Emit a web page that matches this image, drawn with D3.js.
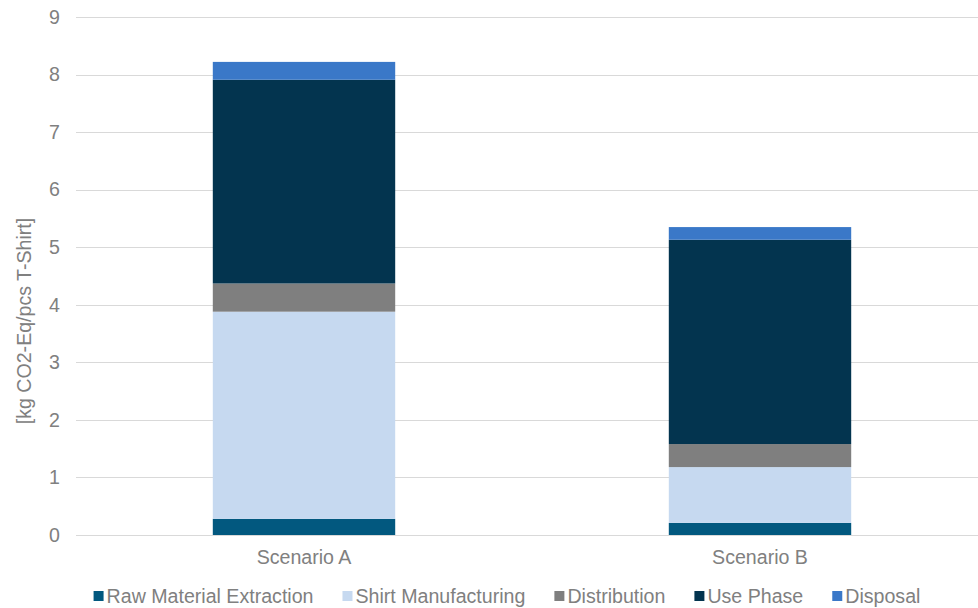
<!DOCTYPE html>
<html>
<head>
<meta charset="utf-8">
<script src="https://cdn.jsdelivr.net/npm/d3@7"></script>
<style>
  body { margin: 0; background: #fff; }
  text { font-family: "Liberation Sans", Arial, sans-serif; fill: #808080; }
</style>
</head>
<body>
<svg id="chart" width="978" height="608"></svg>
<script>
// data
var scenarios = ["Scenario A", "Scenario B"];
var stages = ["Raw Material Extraction", "Shirt Manufacturing", "Distribution", "Use Phase", "Disposal"];
var rawMaterial = [0.28, 0.21];
var shirtManufacturing = [3.60, 0.97];
var distribution = [0.49, 0.40];
var usePhase = [3.54, 3.55];
var disposal = [0.31, 0.22];
var yTicks = [0, 1, 2, 3, 4, 5, 6, 7, 8, 9];
var colors = ["#02587f", "#c6d9f0", "#7f7f7f", "#03344f", "#3a78c8"];

var fontSize = "19.6px";

var svg = d3.select("#chart")
    , margin = {top: 17, right: -10, bottom: 73, left: 76}
    , width = +svg.attr("width") - margin.left - margin.right
    , height = +svg.attr("height") - margin.top - margin.bottom
    , g = svg.append("g").attr("transform", "translate(" + margin.left + "," + margin.top + ")");

var series = [rawMaterial, shirtManufacturing, distribution, usePhase, disposal];
var table = scenarios.map(function(s, i) {
    var row = {scenario: s};
    stages.forEach(function(k, j) { row[k] = series[j][i]; });
    return row;
});
var stack = d3.stack().keys(stages)(table);

var x = d3.scaleBand().domain(scenarios).range([0, width]).paddingInner(0.6).paddingOuter(0.3);
var y = d3.scaleLinear().domain([0, 9]).range([height, 0]);

// gridlines
g.append("g")
    .selectAll("line")
    .data(yTicks)
    .enter().append("line")
    .attr("x1", 0).attr("x2", width)
    .attr("y1", function(d) { return Math.round(y(d)) + 0.5; })
    .attr("y2", function(d) { return Math.round(y(d)) + 0.5; })
    .attr("stroke", "#d9d9d9")
    .attr("stroke-width", 1);

// y axis labels
var yAxis = g.append("g")
    .call(d3.axisLeft(y).tickValues(yTicks).tickSize(0).tickPadding(16));
yAxis.select(".domain").remove();
yAxis.selectAll("text")
    .attr("font-size", fontSize)
    .attr("font-family", "Liberation Sans, Arial, sans-serif")
    .attr("fill", "#808080");

// bars
g.append("g")
    .selectAll("g")
    .data(stack)
    .enter().append("g")
    .attr("fill", function(d, i) { return colors[i]; })
    .selectAll("rect")
    .data(function(d) { return d; })
    .enter().append("rect")
    .attr("x", function(d) { return x(d.data.scenario); })
    .attr("width", x.bandwidth())
    .attr("y", function(d) { return y(d[1]); })
    .attr("height", function(d) { return y(d[0]) - y(d[1]); });

// x axis labels
var xAxis = g.append("g")
    .attr("transform", "translate(0," + height + ")")
    .call(d3.axisBottom(x).tickSize(0).tickPadding(15));
xAxis.select(".domain").remove();
xAxis.selectAll("text")
    .attr("font-size", fontSize)
    .attr("font-family", "Liberation Sans, Arial, sans-serif")
    .attr("fill", "#808080");

// y axis title
svg.append("text")
    .attr("transform", "translate(31,321) rotate(-90)")
    .attr("text-anchor", "middle")
    .attr("font-size", fontSize)
    .text("[kg CO2-Eq/pcs T-Shirt]");

// legend
var legend = svg.append("g").attr("transform", "translate(0,596)");
var items = legend.selectAll("g")
    .data(stages)
    .enter().append("g");
items.append("rect")
    .attr("width", 10).attr("height", 10)
    .attr("y", -5)
    .attr("fill", function(d, i) { return colors[i]; });
items.append("text")
    .attr("x", 13)
    .attr("dy", "0.35em")
    .attr("font-size", fontSize)
    .text(function(d) { return d; });

var gap = 29, pos = [], total = 0;
items.each(function() {
    var w = 13 + this.querySelector("text").getComputedTextLength();
    pos.push(total);
    total += w + gap;
});
total -= gap;
var start = 507 - total / 2;
items.attr("transform", function(d, i) { return "translate(" + (start + pos[i]) + ",0)"; });
</script>
</body>
</html>
